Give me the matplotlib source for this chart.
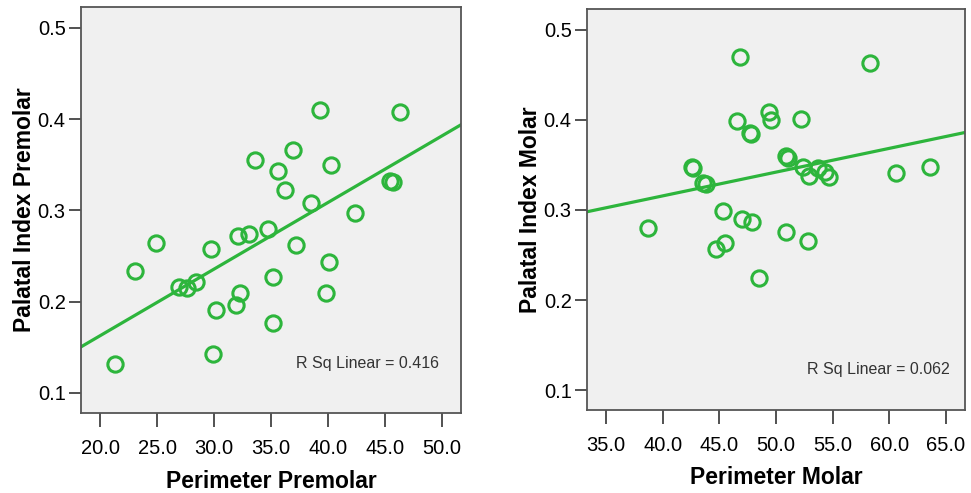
import numpy as np
import matplotlib
matplotlib.use("Agg")
import matplotlib.pyplot as plt

plt.rcParams['font.family'] = ['Liberation Sans', 'DejaVu Sans']

# premolar: perimeter vs palatal index
perim_premolar = [39.3, 46.3, 36.9, 33.6, 35.6, 40.3, 36.2, 45.4, 45.7, 38.5,
                  42.4, 24.9, 23.1, 29.7, 32.1, 33.1, 34.7, 37.2, 40.1, 35.2,
                  39.8, 26.9, 27.6, 28.4, 32.3, 31.9, 30.2, 35.2, 29.9, 21.3]
index_premolar = [0.410, 0.408, 0.366, 0.355, 0.343, 0.350, 0.322, 0.332, 0.331, 0.308,
                  0.297, 0.264, 0.234, 0.258, 0.272, 0.274, 0.280, 0.262, 0.244, 0.227,
                  0.209, 0.216, 0.215, 0.222, 0.210, 0.196, 0.191, 0.177, 0.143, 0.132]

# molar: perimeter vs palatal index
perim_molar = [46.8, 58.3, 46.6, 49.4, 49.6, 52.2, 47.7, 47.8, 42.6, 42.7,
               43.6, 43.8, 50.9, 51.1, 52.4, 52.9, 53.7, 54.3, 54.7, 60.6,
               63.6, 38.7, 45.3, 47.0, 47.9, 50.9, 52.8, 45.5, 44.7, 48.5]
index_molar = [0.470, 0.463, 0.399, 0.409, 0.400, 0.401, 0.385, 0.384, 0.348, 0.347,
               0.330, 0.329, 0.360, 0.358, 0.348, 0.338, 0.346, 0.342, 0.337, 0.341,
               0.348, 0.280, 0.299, 0.290, 0.287, 0.275, 0.265, 0.263, 0.257, 0.225]

green = '#2db53c'


def scatter_fit(ax, x, y, xlim, xticks, xlabel, ylabel, rsq_text, rsq_pos):
    x = np.array(x)
    y = np.array(y)
    ax.set_facecolor('#f0f0f0')
    ax.plot(x, y, 'o', mfc='none', mec=green, ms=11, mew=2.2)
    b, a = np.polyfit(x, y, 1)
    xs = np.array(xlim)
    ax.plot(xs, a + b * xs, color=green, lw=2.3)
    ax.set_xlim(xlim)
    ax.set_ylim(0.078, 0.523)
    ax.set_xticks(xticks)
    ax.set_xticklabels(["%.1f" % t for t in xticks])
    ax.set_yticks([0.1, 0.2, 0.3, 0.4, 0.5])
    ax.set_yticklabels(["0.1", "0.2", "0.3", "0.4", "0.5"])
    ax.tick_params(direction='out', length=9, width=1.2, color='#333333',
                   labelsize=14.5, pad=2)
    ax.tick_params(axis='x', length=10, pad=9)
    for s in ax.spines.values():
        s.set_color('#555555')
        s.set_linewidth(1.3)
    ax.set_xlabel(xlabel, fontsize=16.5, fontweight='bold', labelpad=8)
    ax.set_ylabel(ylabel, fontsize=16.5, fontweight='bold', labelpad=1)
    ax.text(rsq_pos[0], rsq_pos[1], rsq_text, transform=ax.transAxes,
            fontsize=11.5, color='#333333', ha='right', va='center')


fig = plt.figure(figsize=(9.71, 4.93), dpi=100)
ax1 = fig.add_axes([81 / 971, 1 - 413 / 493, 380 / 971, 406 / 493])
ax2 = fig.add_axes([587 / 971, 1 - 410 / 493, 378 / 971, 401 / 493])

scatter_fit(ax1, perim_premolar, index_premolar, (18.33, 51.67),
            [20, 25, 30, 35, 40, 45, 50], "Perimeter Premolar",
            "Palatal Index Premolar", "R Sq Linear = 0.416", (0.942, 0.123))
scatter_fit(ax2, perim_molar, index_molar, (33.32, 66.68),
            [35, 40, 45, 50, 55, 60, 65], "Perimeter Molar",
            "Palatal Index Molar", "R Sq Linear = 0.062", (0.96, 0.10))

fig.savefig("out.png", dpi=100)
